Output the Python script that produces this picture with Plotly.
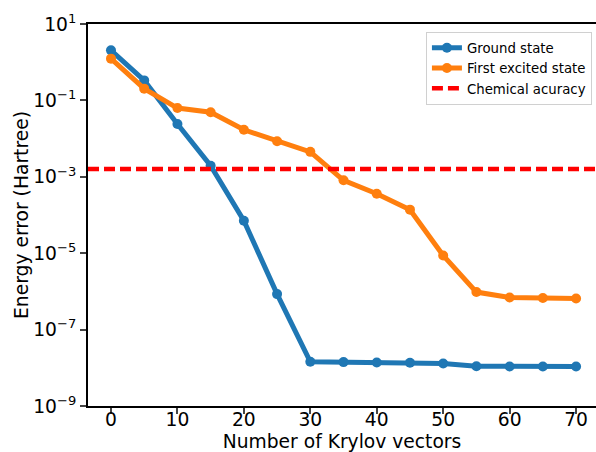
import plotly.graph_objects as go

krylov = [0, 5, 10, 15, 20, 25, 30, 35, 40, 45, 50, 55, 60, 65, 70]
ground = [2.04, 0.334, 0.024, 1.95e-3, 7.1e-5, 8.5e-7, 1.44e-8, 1.41e-8, 1.38e-8,
          1.35e-8, 1.29e-8, 1.1e-8, 1.08e-8, 1.08e-8, 1.08e-8]
excited = [1.24, 0.203, 0.063, 0.049, 0.017, 8.5e-3, 4.5e-3, 8.1e-4, 3.6e-4,
           1.38e-4, 8.7e-6, 9.6e-7, 6.9e-7, 6.7e-7, 6.5e-7]
chem_acc = 1.6e-3
ytick_vals = [1e1, 1e-1, 1e-3, 1e-5, 1e-7, 1e-9]
ytick_text = ["10<sup>1</sup>", "10<sup>−1</sup>", "10<sup>−3</sup>",
              "10<sup>−5</sup>", "10<sup>−7</sup>", "10<sup>−9</sup>"]
xtick_vals = [0, 10, 20, 30, 40, 50, 60, 70]

FONT = "DejaVu Sans"
FS = 18.7

fig = go.Figure()
fig.add_trace(go.Scatter(x=krylov, y=ground, mode="lines+markers", name="Ground state",
                         line=dict(color="#1f77b4", width=5),
                         marker=dict(color="#1f77b4", size=10)))
fig.add_trace(go.Scatter(x=krylov, y=excited, mode="lines+markers", name="First excited state",
                         line=dict(color="#ff7f0e", width=5),
                         marker=dict(color="#ff7f0e", size=10)))
fig.add_shape(type="line", xref="x domain", x0=0, x1=1, yref="y", y0=chem_acc, y1=chem_acc,
              line=dict(color="red", width=4.5, dash="11px,5px"),
              showlegend=True, name="Chemical acuracy", legendrank=1001, layer="above")

fig.update_layout(
    width=596, height=452,
    margin=dict(l=88, r=0, t=24, b=46, autoexpand=False),
    paper_bgcolor="white", plot_bgcolor="white",
    font=dict(family=FONT, size=FS, color="black"),
    showlegend=True,
    legend=dict(x=0.992, y=0.98, xanchor="right", yanchor="top",
                bgcolor="rgba(255,255,255,0.8)", bordercolor="#d0d0d0", borderwidth=1,
                font=dict(family=FONT, size=13.3, color="black"),
                itemwidth=30, tracegroupgap=0),
)
fig.update_xaxes(range=[-3.46, 73.0], tickvals=xtick_vals, ticks="outside", ticklen=6,
                 tickwidth=1.5, showline=True, linecolor="black", linewidth=2, mirror=True,
                 showgrid=False, zeroline=False, automargin=False,
                 ticklabelstandoff=-10,
                 tickfont=dict(family=FONT, size=FS),
                 title=dict(text="Number of Krylov vectors", standoff=14,
                            font=dict(family=FONT, size=FS)))
fig.update_yaxes(type="log", range=[-9, 1], tickvals=ytick_vals, ticktext=ytick_text,
                 ticks="outside", ticklen=6, tickwidth=1.5, showline=True, linecolor="black",
                 linewidth=2, showgrid=False, zeroline=False, automargin=False,
                 tickfont=dict(family=FONT, size=FS),
                 title=dict(text="Energy error (Hartree)", standoff=0,
                            font=dict(family=FONT, size=FS)))

fig.write_html("out.html", config={"displayModeBar": False},
               post_script="document.body.style.margin='0';")
